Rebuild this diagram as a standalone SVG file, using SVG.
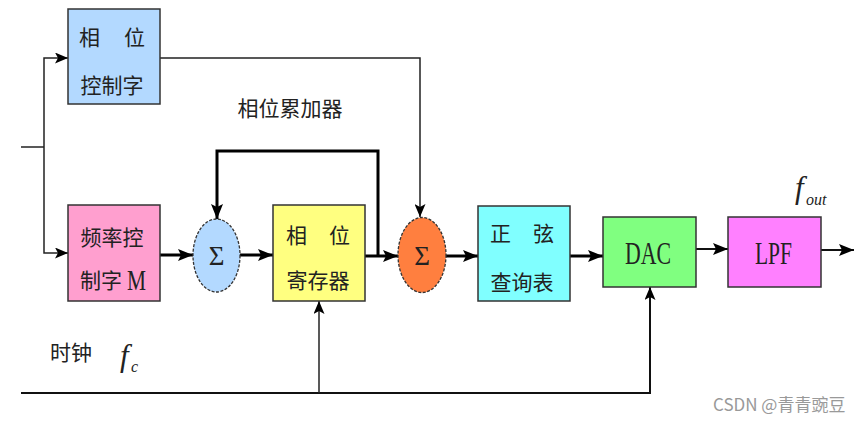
<svg xmlns="http://www.w3.org/2000/svg" width="865" height="424" viewBox="0 0 865 424">
  <defs>
    <style>
      .box { stroke: #333; stroke-width: 1.5; }
      .sum { stroke: #333; stroke-width: 1.3; stroke-dasharray: 3 1.5; }
      .cjk { font-family: "Noto Sans CJK SC", "Noto Sans", sans-serif; font-size: 21px; fill: #222; }
      .ser { font-family: "Liberation Serif", "DejaVu Serif", serif; fill: #222; }
      .thick { fill: none; stroke: #000; stroke-width: 3; }
      .mid { fill: none; stroke: #111; stroke-width: 2; }
      .thin { fill: none; stroke: #222; stroke-width: 1.5; }
    </style>
    <marker id="arr" markerUnits="userSpaceOnUse" markerWidth="16" markerHeight="12" refX="15" refY="6" orient="auto">
      <path d="M0,0 L15,6 L0,12 L3,6 z" fill="#000"/>
    </marker>
    <marker id="arrs" markerUnits="userSpaceOnUse" markerWidth="14" markerHeight="11" refX="13" refY="5.5" orient="auto">
      <path d="M0,0 L13,5.5 L0,11 L3,5.5 z" fill="#000"/>
    </marker>
  </defs>
  <rect width="865" height="424" fill="#fff"/>

  <g id="connectors">
    <path class="thin" d="M21,147 H44"/>
    <path class="thin" d="M44,147 V58 H68" marker-end="url(#arrs)"/>
    <path class="thin" d="M44,147 V253 H68" marker-end="url(#arrs)"/>
    <path class="thin" d="M160,58 H420 V217" marker-end="url(#arrs)"/>
    <path class="thick" d="M160,255 H193" marker-end="url(#arr)"/>
    <path class="thick" d="M240,255 H273" marker-end="url(#arr)"/>
    <path class="thick" d="M365,256 H398" marker-end="url(#arr)"/>
    <path class="thick" d="M378,256 V151 H217 V219" marker-end="url(#arr)"/>
    <path class="thick" d="M446,256 H478" marker-end="url(#arr)"/>
    <path class="thick" d="M570,256 H603" marker-end="url(#arr)"/>
    <path class="mid" d="M696,249 H728" marker-end="url(#arr)"/>
    <path class="mid" d="M821,250 H854" marker-end="url(#arr)"/>
    <path class="mid" d="M21,393 H650 V287" marker-end="url(#arrs)"/>
    <path class="thin" d="M319,393 V301" marker-end="url(#arrs)"/>
  </g>

  <g id="phase-word">
    <rect class="box" x="68" y="9" width="92" height="95" fill="#b3d9ff"/>
    <text class="cjk" x="79" y="45">相</text>
    <text class="cjk" x="124" y="45">位</text>
    <text class="cjk" x="112" y="93" text-anchor="middle">控制字</text>
  </g>

  <g id="freq-word">
    <rect class="box" x="68" y="205" width="92" height="96" fill="#ff9fcf"/>
    <text class="cjk" x="112" y="245" text-anchor="middle">频率控</text>
    <text class="cjk" x="80" y="288">制字</text>
    <text class="ser" x="127" y="290" font-size="30" textLength="19" lengthAdjust="spacingAndGlyphs">M</text>
  </g>

  <g id="sum1">
    <ellipse class="sum" cx="216.5" cy="255.5" rx="23.5" ry="36.5" fill="#b3d9ff"/>
    <text class="ser" x="216.5" y="265" font-size="27" text-anchor="middle">Σ</text>
  </g>

  <g id="phase-register">
    <rect class="box" x="273" y="205" width="92" height="96" fill="#ffff80"/>
    <text class="cjk" x="286" y="243">相</text>
    <text class="cjk" x="329" y="243">位</text>
    <text class="cjk" x="318" y="288" text-anchor="middle">寄存器</text>
  </g>

  <g id="accumulator-label">
    <text class="cjk" x="290" y="116" text-anchor="middle">相位累加器</text>
  </g>

  <g id="sum2">
    <ellipse class="sum" cx="422" cy="255" rx="24" ry="37.5" fill="#ff7f3f"/>
    <text class="ser" x="422" y="265" font-size="27" text-anchor="middle">Σ</text>
  </g>

  <g id="sine-table">
    <rect class="box" x="478" y="206" width="92" height="95" fill="#80ffff"/>
    <text class="cjk" x="490" y="241">正</text>
    <text class="cjk" x="533" y="241">弦</text>
    <text class="cjk" x="522" y="290" text-anchor="middle">查询表</text>
  </g>

  <g id="dac">
    <rect class="box" x="603" y="217" width="93" height="70" fill="#80ff80"/>
    <text class="ser" x="625" y="264" font-size="32" textLength="46" lengthAdjust="spacingAndGlyphs">DAC</text>
  </g>

  <g id="lpf">
    <rect class="box" x="728" y="217" width="93" height="70" fill="#ff80ff"/>
    <text class="ser" x="755" y="264" font-size="32" textLength="37" lengthAdjust="spacingAndGlyphs">LPF</text>
  </g>

  <g id="labels">
    <text class="ser" x="795" y="198" font-size="31" font-style="italic">f</text>
    <text class="ser" x="806" y="205" font-size="16" font-style="italic">out</text>
    <text class="cjk" x="50" y="360">时钟</text>
    <text class="ser" x="120" y="366" font-size="31" font-style="italic">f</text>
    <text class="ser" x="131" y="372" font-size="16" font-style="italic">c</text>
    <text x="713" y="411" font-family="Noto Sans CJK SC, Noto Sans, sans-serif" font-size="17" fill="#999">CSDN @青青豌豆</text>
  </g>
</svg>
